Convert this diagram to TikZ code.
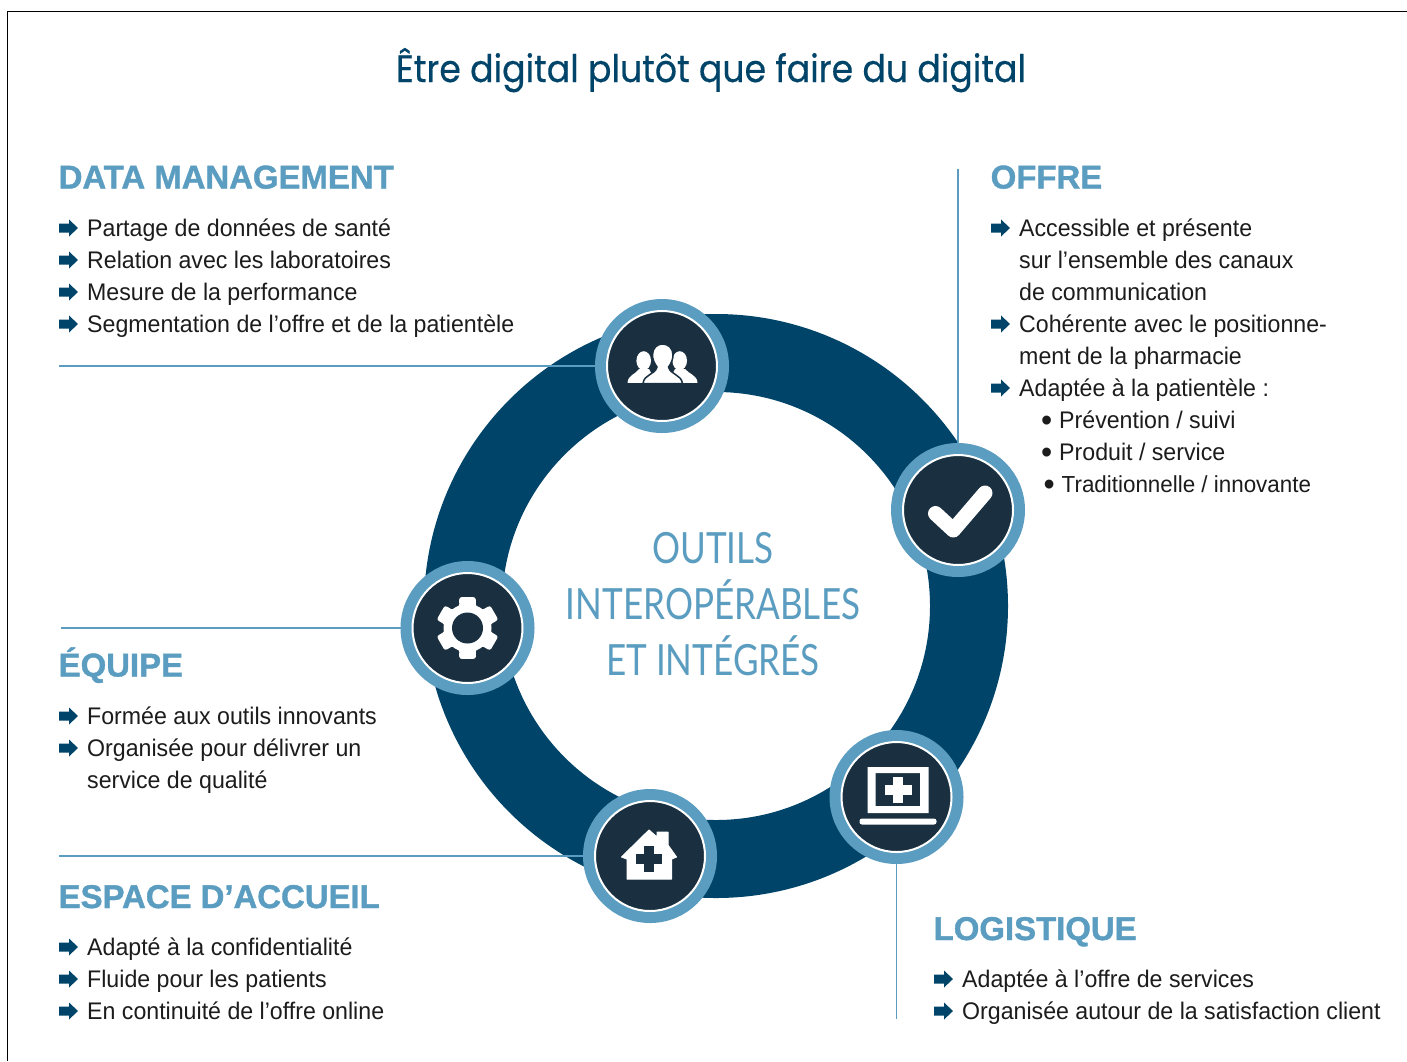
\documentclass[tikz,border=0pt]{standalone}
\usepackage{fontspec}
\setmainfont{Liberation Sans}
\newfontfamily\bodyfont[FakeStretch=0.965]{Liberation Sans}
\newfontfamily\headfont[UprightFont={* Bold},FakeBold=1.2]{Liberation Sans}
\newfontfamily\titlefont[FakeStretch=0.913,FakeBold=0.4]{Poppins}
\newfontfamily\ctrfont[FakeStretch=0.815]{Lato}
\definecolor{navy}{HTML}{004569}
\definecolor{sky}{HTML}{5B9DC0}
\definecolor{ink}{HTML}{1A3040}
\definecolor{txt}{HTML}{1C1C1C}
\tikzset{
  x=1pt,y=-1pt,
  bodytext/.style={anchor=base west,inner sep=0pt,text=txt,font=\bodyfont\fontsize{24}{24}\selectfont},
  headtext/.style={anchor=base west,inner sep=0pt,text=sky,font=\headfont\fontsize{32.9}{32.9}\selectfont},
  hub/.style={circle,draw=sky,line width=12pt,fill=ink,minimum size=122pt,inner sep=0pt,outer sep=0pt},
  rule/.style={draw=sky,line width=1.8pt},
  centretext/.style={anchor=base,inner sep=0pt,text=sky,font=\fontsize{43}{43}\selectfont\ctrfont},
  icon/.style={fill=white,draw=white,line join=round}
}
\newcommand{\arrowmark}[2]{\fill[navy] (#1,#2) ++(0,-12.5) -- ++(10,0) -- ++(0,-4) -- ++(9,8.5) -- ++(-9,8.5) -- ++(0,-4) -- ++(-10,0) -- cycle;}
\newcommand{\bitem}[4]{\arrowmark{#2}{#3}\node[bodytext] (#1) at (#2+28,#3) {#4};}
\newcommand{\bigdot}{\makebox[18pt][l]{\raisebox{-3.2pt}{\fontsize{33}{33}\selectfont •}}}
\begin{document}
\begin{tikzpicture}
\useasboundingbox (0,0) rectangle (1407,1061);
\fill[white] (0,0) rectangle (1407,1061);
\draw[black,line width=1pt] (1407,11.5) -- (7.5,11.5) -- (7.5,1061);
\node[anchor=base,inner sep=0pt,text=navy,font=\fontsize{38}{38}\selectfont\titlefont] (title) at (711,82) {Être digital plutôt que faire du digital};
% ring
\draw[navy,line width=78pt] (716,606) circle (253);
\node[centretext] (c1) at (713,563) {OUTILS};
\node[centretext] (c2) at (713,619) {INTEROPÉRABLES};
\node[centretext] (c3) at (713,675) {ET INTÉGRÉS};
% rule ends
\coordinate (r1) at (59,366);
\coordinate (r2) at (61,628);
\coordinate (r3) at (59,856);
\coordinate (r4) at (958,169);
\coordinate (r5) at (896.5,1019);
% hubs
\node[hub] (people) at (662,366) {};
\node[hub] (gear) at (467.5,628) {};
\node[hub] (house) at (650,856) {};
\node[hub] (laptop) at (896.5,797) {};
\node[hub] (check) at (958,510) {};
\foreach \h in {people,gear,house,laptop,check}
  \draw[white,line width=2pt] (\h) circle (55);
\draw[rule] (r1) -- (people);
\draw[rule] (r2) -- (gear);
\draw[rule] (r3) -- (house);
\draw[rule] (r4) -- (check);
\draw[rule] (r5) -- (laptop);
% people icon
\begin{scope}[shift={(people.center)}]
  \fill[white] (-18.3,-5.3) ellipse (7.3 and 9.5);
  \fill[white] (-34.5,16.8) .. controls (-34,9) and (-26,8) .. (-23,3) -- (-13,3) -- (-6,16.8) -- cycle;
  \fill[white] (17.7,-5.3) ellipse (7.3 and 9.5);
  \fill[white] (35.5,16.8) .. controls (35,9) and (27,8) .. (23,3) -- (13,3) -- (6,16.8) -- cycle;
  \filldraw[fill=white,draw=ink,line width=1.5pt] (-19,17.5) .. controls (-18,8) and (-7,9) .. (-5,1) .. controls (-8,-3) and (-9.5,-7) .. (-9.5,-11) .. controls (-9.5,-18) and (-5,-22) .. (0.7,-22) .. controls (6,-22) and (11,-18) .. (11,-11) .. controls (11,-7) and (9.5,-3) .. (6.5,1) .. controls (8.5,9) and (19,8) .. (20.5,17.5) -- cycle;
\end{scope}
% gear icon
\begin{scope}[shift={(gear.center)}]
  \fill[white,even odd rule,rounded corners=2.5pt]
    (90-15:32) \foreach \a in {90,150,210,270,330,30} { -- (\a+15:32) -- (\a+21:23) -- (\a+39:23) -- (\a+45:32) } -- cycle;
  \fill[white] (0,0) circle (24);
  \fill[ink] (0,0) circle (15.5);
\end{scope}
% house icon
\begin{scope}[shift={(house.center)}]
  \fill[icon,line width=1pt] (-1,-26) -- (7,-19) -- (7,-24) -- (18,-24) -- (18,-11) -- (26.5,1) -- (21.5,3) -- (21.5,23) -- (-23,23) -- (-23,3) -- (-28.5,1) -- cycle;
  \fill[ink] (-5.8,-10.3) rectangle (3.8,16.3);
  \fill[ink] (-14.3,-1.8) rectangle (12.3,7.8);
\end{scope}
% laptop icon
\begin{scope}[shift={(laptop.center)}]
  \fill[white,even odd rule] (-29,-30) rectangle (32,16) (-21,-24) rectangle (23.5,9);
  \fill[white] (-3.3,-20) rectangle (6.8,6);
  \fill[white] (-11.5,-12) rectangle (15,-2);
  \fill[white,rounded corners=2.5pt] (-37,21.5) rectangle (40,27.5);
\end{scope}
% check icon
\begin{scope}[shift={(check.center)}]
  \draw[white,line width=15pt,line cap=round,line join=round] (-22.5,3.5) -- (-4.7,20) -- (27,-17);
\end{scope}
% DATA MANAGEMENT
\node[headtext] (h1) at (58.5,188.5) {DATA MANAGEMENT};
\bitem{d1}{59}{236}{Partage de données de santé}
\bitem{d2}{59}{268}{Relation avec les laboratoires}
\bitem{d3}{59}{300}{Mesure de la performance}
\bitem{d4}{59}{332}{Segmentation de l’offre et de la patientèle}
% OFFRE
\node[headtext] (h2) at (990.5,188.5) {OFFRE};
\bitem{o1}{991}{236}{Accessible et présente}
\node[bodytext] (o2) at (1019,268) {sur l’ensemble des canaux};
\node[bodytext] (o3) at (1019,300) {de communication};
\bitem{o4}{991}{332}{Cohérente avec le positionne-}
\node[bodytext] (o5) at (1019,364) {ment de la pharmacie};
\bitem{o6}{991}{396}{Adaptée à la patientèle :}
\node[bodytext] (o7) at (1041,428) {\bigdot Prévention / suivi};
\node[bodytext] (o8) at (1041,460) {\bigdot Produit / service};
\node[bodytext,font=\bodyfont\fontsize{23.2}{24}\selectfont] (o9) at (1043.5,492) {\bigdot Traditionnelle / innovante};
% EQUIPE
\node[headtext] (h3) at (58.5,676.5) {ÉQUIPE};
\bitem{e1}{59}{724}{Formée aux outils innovants}
\bitem{e2}{59}{756}{Organisée pour délivrer un}
\node[bodytext] (e3) at (87,788) {service de qualité};
% ESPACE
\node[headtext] (h4) at (58.5,908) {ESPACE D’ACCUEIL};
\bitem{a1}{59}{955}{Adapté à la confidentialité}
\bitem{a2}{59}{987}{Fluide pour les patients}
\bitem{a3}{59}{1019}{En continuité de l’offre online}
% LOGISTIQUE
\node[headtext] (h5) at (933.5,940) {LOGISTIQUE};
\bitem{l1}{934}{987}{Adaptée à l’offre de services}
\bitem{l2}{934}{1019}{Organisée autour de la satisfaction client}
\end{tikzpicture}
\end{document}
